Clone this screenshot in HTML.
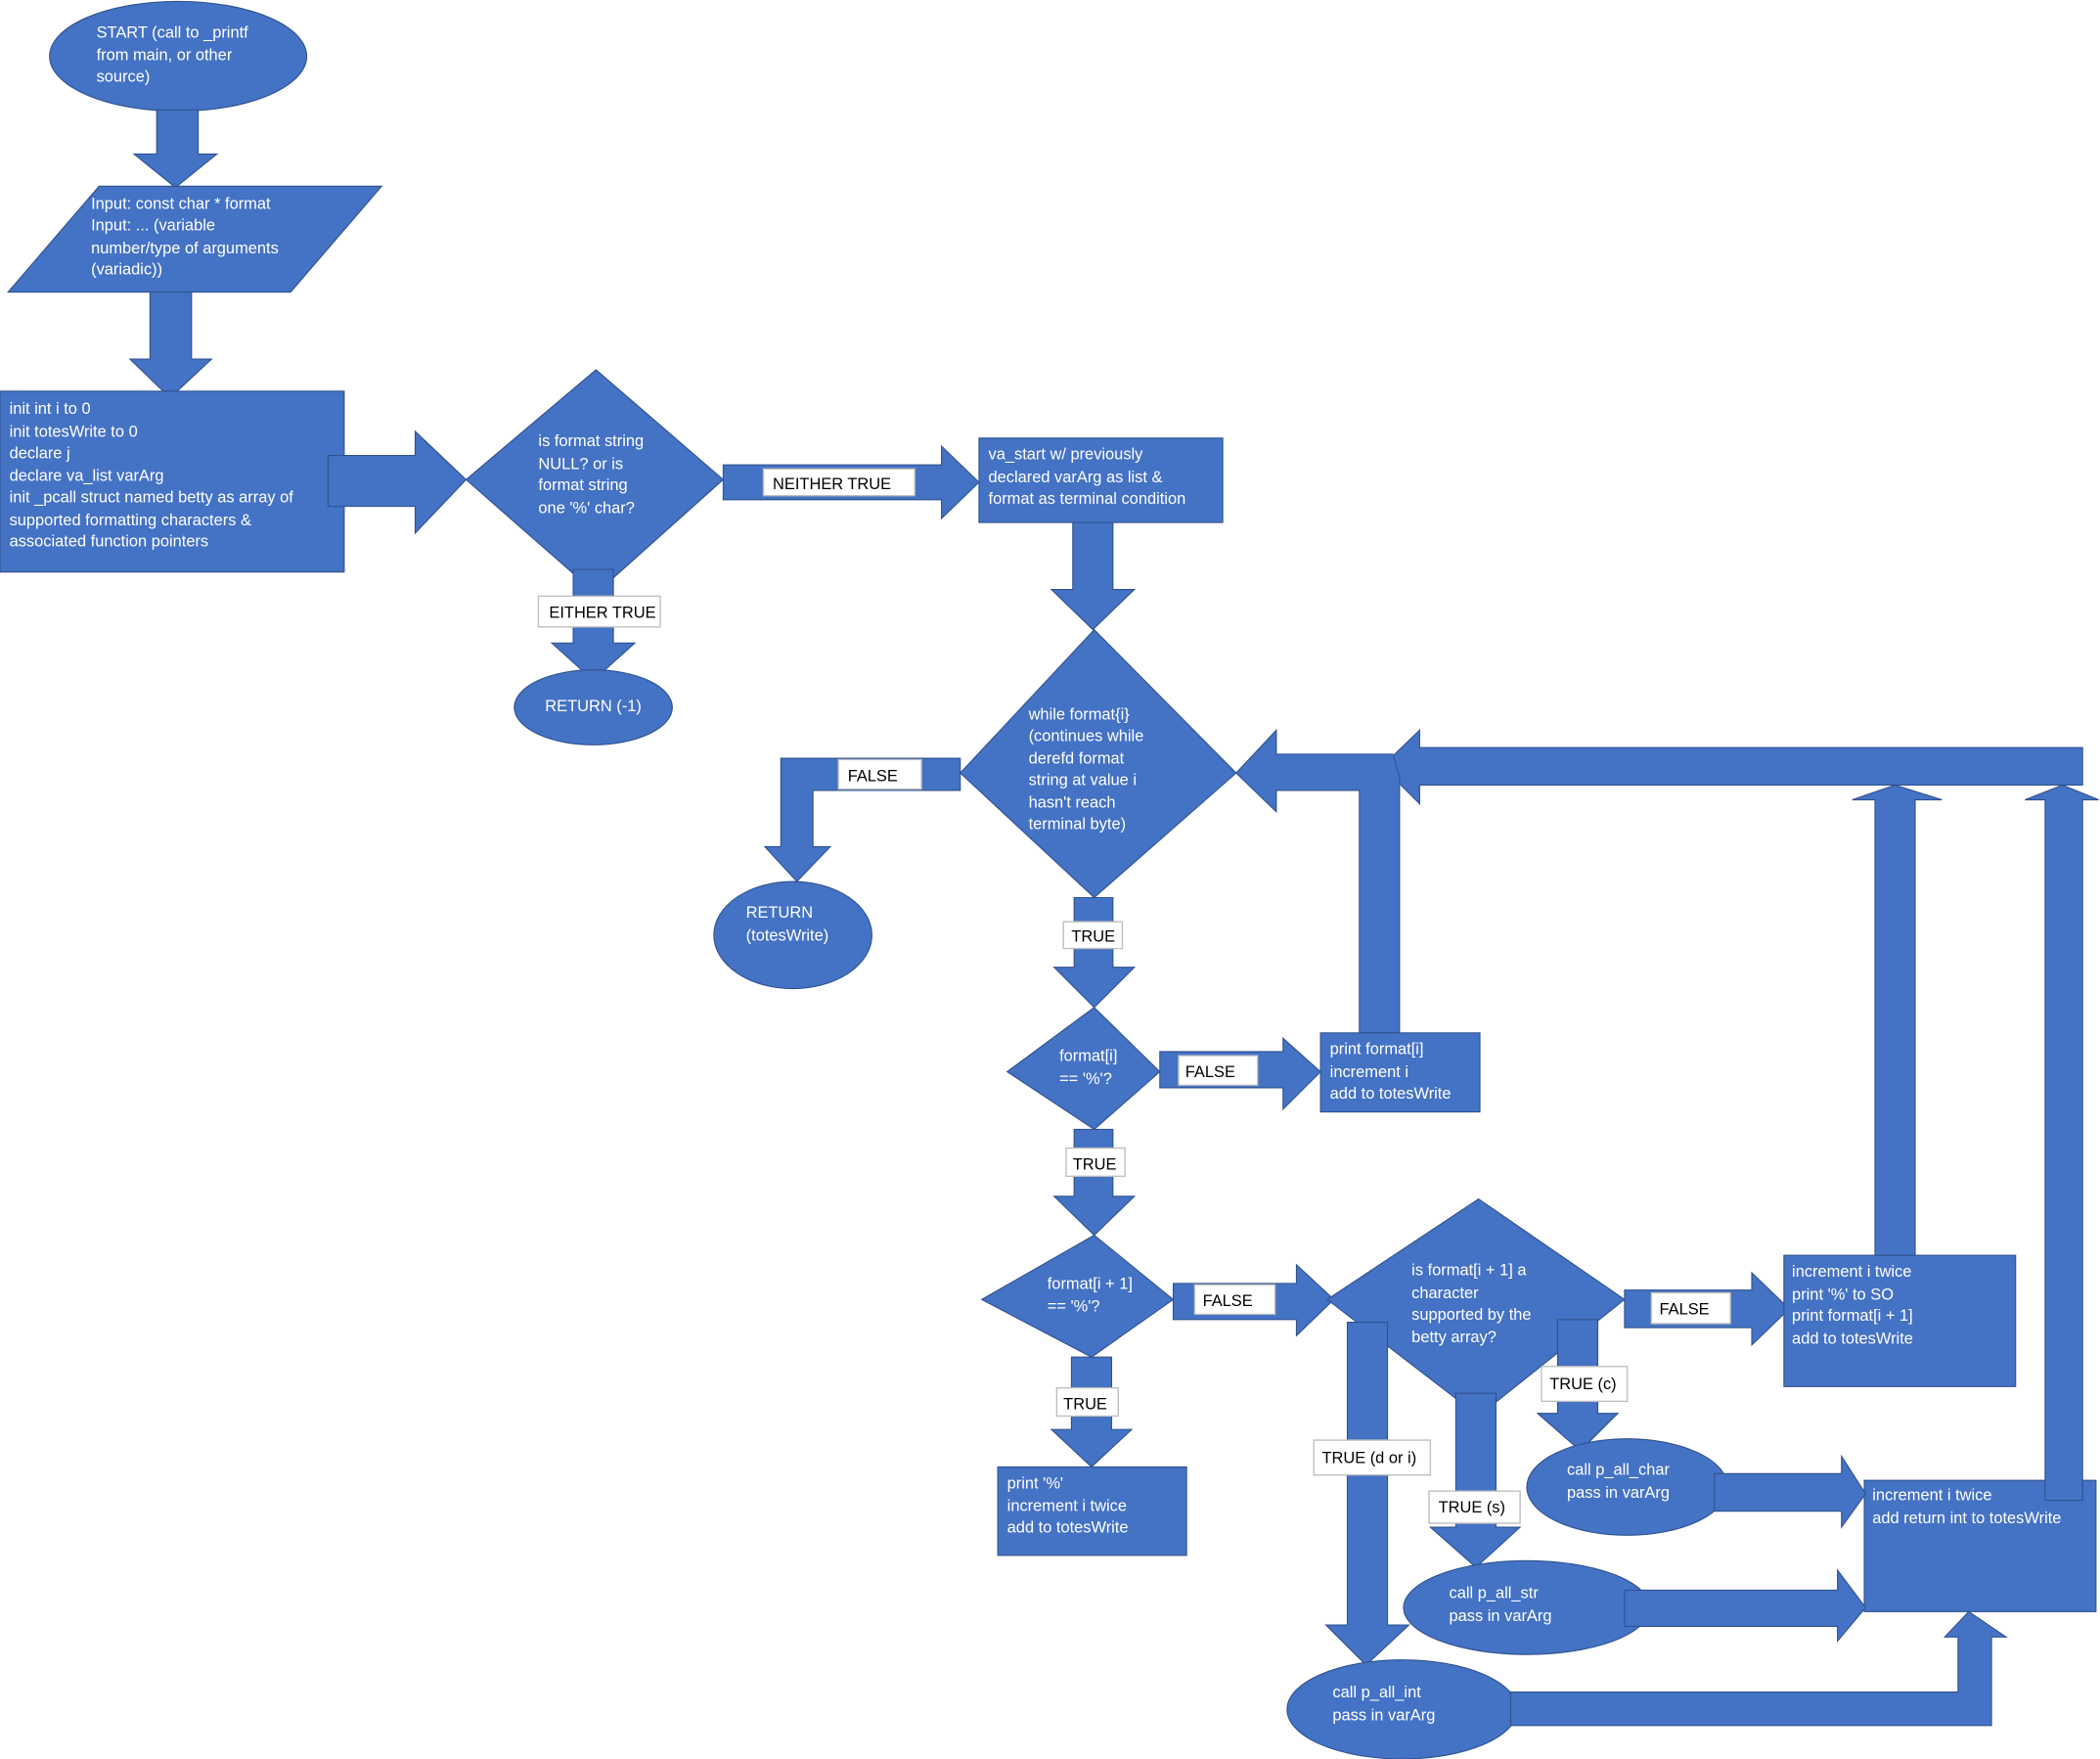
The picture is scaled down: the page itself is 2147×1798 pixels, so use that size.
<!DOCTYPE html>
<html><head><meta charset="utf-8"><style>
html,body{margin:0;padding:0;background:#fff;}
svg{display:block;}
text{font-family:"Liberation Sans",sans-serif;font-size:12px;}
.w{fill:#fff;}
.k{fill:#000;}
</style></head><body>
<svg width="2147" height="1798" viewBox="0 0 1568 1313" preserveAspectRatio="none" xmlns="http://www.w3.org/2000/svg">
<g fill="#4472C4" stroke="#2F528F" stroke-width="0.8">
<!-- start -->
<ellipse cx="133" cy="42" rx="96" ry="41"/>
<polygon points="117,82 148,82 148,115 162,115 131,140 100,115 117,115"/>
<polygon points="74,139 285,139 217,218 6,218"/>
<polygon points="112,218 143,218 143,268 158,268 127,297 97,268 112,268"/>
<rect x="0" y="292" width="257" height="135"/>
<polygon points="245,340 310,340 310,322 348,358 310,398 310,378 245,378"/>
<polygon points="445,276 540,358 445,443 348,358"/>
<polygon points="428,425 458,425 458,480 474,480 443,508 412,480 428,480"/>
<ellipse cx="443" cy="528" rx="59" ry="28"/>
<polygon points="540,347 703,347 703,333 731,360 703,387 703,373 540,373"/>
<rect x="731" y="327" width="182" height="63"/>
<polygon points="801,390 831,390 831,440 847,440 816,470 785,440 801,440"/>
<!-- return loop -->
<polygon points="1555,558 1555,586 1060,586 1060,600 1032,572 1060,545 1060,558"/>
<polygon points="1015,771 1015,590 953,590 953,606 923,577 953,545 953,563 1040,563 1045,580 1045,771"/>
<polygon points="1400,937 1400,597 1383,597 1415,586 1450,597 1430,597 1430,937"/>
<rect x="1392" y="1105" width="173" height="98"/>
<polygon points="1527,1120 1527,597 1512,597 1540,586 1567,597 1555,597 1555,1120"/>
<polygon points="817,470 923,577 817,670 717,577"/>
<polygon points="717,566 717,590 607,590 607,632 620,632 595,658 571,632 583,632 583,566"/>
<ellipse cx="592" cy="698" rx="59" ry="40"/>
<polygon points="802,670 831,670 831,722 847,722 817,752 787,722 802,722"/>
<polygon points="817,752 866,800 817,843 752,800"/>
<polygon points="866,785 958,785 958,775 986,800 958,828 958,812 866,812"/>
<rect x="986" y="771" width="119" height="59"/>
<polygon points="802,843 831,843 831,893 847,893 817,922 787,893 802,893"/>
<polygon points="817,922 876,970 815,1013 733,970"/>
<polygon points="876,958 968,958 968,944 996,970 968,997 968,985 876,985"/>
<polygon points="800,1013 830,1013 830,1067 845,1067 815,1095 785,1067 800,1067"/>
<rect x="745" y="1095" width="141" height="66"/>
<polygon points="1104,895 1213,970 1104,1057 991,970"/>
<polygon points="1213,963 1308,963 1308,950 1336,977 1308,1004 1308,991 1213,991"/>
<rect x="1332" y="937" width="173" height="98"/>
<polygon points="1163,985 1193,985 1193,1055 1208,1055 1180,1083 1148,1055 1163,1055"/>
<polygon points="1087,1040 1117,1040 1117,1140 1135,1140 1102,1170 1068,1140 1087,1140"/>
<polygon points="1006,987 1036,987 1036,1213 1052,1213 1020,1243 990,1213 1006,1213"/>
<ellipse cx="1215" cy="1110" rx="75" ry="36"/>
<ellipse cx="1140" cy="1200" rx="92" ry="35"/>
<ellipse cx="1047" cy="1276" rx="86" ry="37"/>
<polygon points="1280,1100 1375,1100 1375,1087 1393,1115 1375,1140 1375,1128 1280,1128"/>
<polygon points="1213,1187 1372,1187 1372,1172 1393,1200 1372,1225 1372,1214 1213,1214"/>
<polygon points="1128,1263 1462,1263 1462,1222 1452,1222 1470,1203 1498,1222 1487,1222 1487,1288 1128,1288"/>
</g>
<!-- labels -->
<g fill="#fff" stroke="#BFBFBF" stroke-width="1">
<rect x="402" y="445" width="91" height="23"/>
<rect x="570" y="350" width="113" height="20"/>
<rect x="626" y="567" width="62" height="22"/>
<rect x="794" y="688" width="44" height="20"/>
<rect x="880" y="788" width="59" height="22"/>
<rect x="796" y="857" width="44" height="21"/>
<rect x="892" y="959" width="60" height="22"/>
<rect x="789" y="1036" width="46" height="21"/>
<rect x="1233" y="965" width="59" height="23"/>
<rect x="1151" y="1020" width="64" height="26"/>
<rect x="1067" y="1113" width="68" height="24"/>
<rect x="981" y="1075" width="87" height="26"/>
</g>
<g class="k">
<text x="410" y="461">EITHER TRUE</text>
<text x="577" y="365">NEITHER TRUE</text>
<text x="633" y="583">FALSE</text>
<text x="800" y="703">TRUE</text>
<text x="885" y="804">FALSE</text>
<text x="801" y="873">TRUE</text>
<text x="898" y="975">FALSE</text>
<text x="794" y="1052">TRUE</text>
<text x="1239" y="981">FALSE</text>
<text x="1157" y="1037">TRUE (c)</text>
<text x="1074" y="1129">TRUE (s)</text>
<text x="987" y="1092">TRUE (d or i)</text>
</g>
<g class="w">
<text x="72" y="28">START (call to _printf</text>
<text x="72" y="45">from main, or other</text>
<text x="72" y="61">source)</text>
<text x="68" y="156">Input: const char * format</text>
<text x="68" y="172">Input: ... (variable</text>
<text x="68" y="189">number/type of arguments</text>
<text x="68" y="205">(variadic))</text>
<text x="7" y="309">init int i to 0</text>
<text x="7" y="326">init totesWrite to 0</text>
<text x="7" y="342">declare j</text>
<text x="7" y="359">declare va_list varArg</text>
<text x="7" y="375">init _pcall struct named betty as array of</text>
<text x="7" y="392">supported formatting characters &amp;</text>
<text x="7" y="408">associated function pointers</text>
<text x="402" y="333">is format string</text>
<text x="402" y="350">NULL? or is</text>
<text x="402" y="366">format string</text>
<text x="402" y="383">one '%' char?</text>
<text x="407" y="531">RETURN (-1)</text>
<text x="738" y="343">va_start w/ previously</text>
<text x="738" y="360">declared varArg as list &amp;</text>
<text x="738" y="376">format as terminal condition</text>
<text x="768" y="537">while format{i}</text>
<text x="768" y="553">(continues while</text>
<text x="768" y="570">derefd format</text>
<text x="768" y="586">string at value i</text>
<text x="768" y="603">hasn't reach</text>
<text x="768" y="619">terminal byte)</text>
<text x="557" y="685">RETURN</text>
<text x="557" y="702">(totesWrite)</text>
<text x="791" y="792">format[i]</text>
<text x="791" y="809">== '%'?</text>
<text x="993" y="787">print format[i]</text>
<text x="993" y="804">increment i</text>
<text x="993" y="820">add to totesWrite</text>
<text x="782" y="962">format[i + 1]</text>
<text x="782" y="979">== '%'?</text>
<text x="752" y="1111">print '%'</text>
<text x="752" y="1128">increment i twice</text>
<text x="752" y="1144">add to totesWrite</text>
<text x="1054" y="952">is format[i + 1] a</text>
<text x="1054" y="969">character</text>
<text x="1054" y="985">supported by the</text>
<text x="1054" y="1002">betty array?</text>
<text x="1338" y="953">increment i twice</text>
<text x="1338" y="970">print '%' to SO</text>
<text x="1338" y="986">print format[i + 1]</text>
<text x="1338" y="1003">add to totesWrite</text>
<text x="1170" y="1101">call p_all_char</text>
<text x="1170" y="1118">pass in varArg</text>
<text x="1082" y="1193">call p_all_str</text>
<text x="1082" y="1210">pass in varArg</text>
<text x="995" y="1267">call p_all_int</text>
<text x="995" y="1284">pass in varArg</text>
<text x="1398" y="1120">increment i twice</text>
<text x="1398" y="1137">add return int to totesWrite</text>
</g>
</svg>
</body></html>
